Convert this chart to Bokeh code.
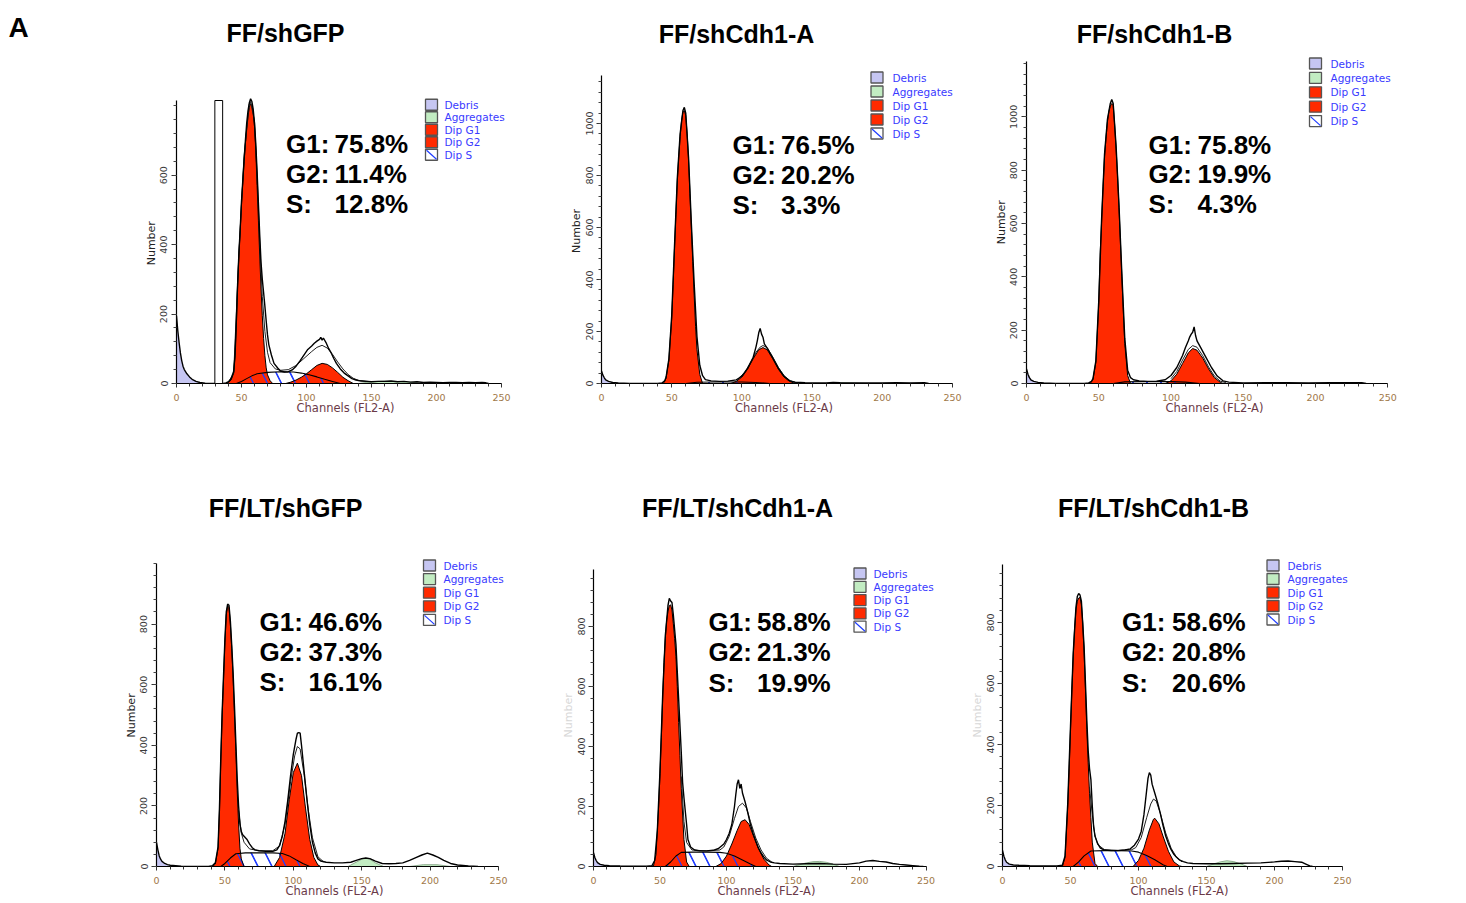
from bokeh.plotting import figure
from bokeh.models import FixedTicker, Range1d
from bokeh.layouts import column, row
from bokeh.embed import file_html
from bokeh.resources import INLINE
from bokeh.core.properties import value

# ---------------- data ----------------
PANEL_LETTER = "A"
TITLES = ["FF/shGFP", "FF/shCdh1-A", "FF/shCdh1-B",
          "FF/LT/shGFP", "FF/LT/shCdh1-A", "FF/LT/shCdh1-B"]
G1_PCT = ["75.8%", "76.5%", "75.8%", "46.6%", "58.8%", "58.6%"]
G2_PCT = ["11.4%", "20.2%", "19.9%", "37.3%", "21.3%", "20.8%"]
S_PCT = ["12.8%", "3.3%", "4.3%", "16.1%", "19.9%", "20.6%"]
STAT_NAMES = ["G1:", "G2:", "S:"]
LEGEND_LABELS = ["Debris", "Aggregates", "Dip G1", "Dip G2", "Dip S"]
X_TICKS = [0, 50, 100, 150, 200, 250]
X_MINOR = list(range(0, 251, 10))
Y_TICKS = [[0, 200, 400, 600],
           [0, 200, 400, 600, 800, 1000],
           [0, 200, 400, 600, 800, 1000],
           [0, 200, 400, 600, 800],
           [0, 200, 400, 600, 800],
           [0, 200, 400, 600, 800]]
Y_AXIS_TOP = [815, 1185, 1206, 1000, 989, 991]
P1_GATE = [29.5, 35.5]

# (channel, number) pairs
P1_DEB = [(0,188),(1,150),(2,115),(3,84),(4,62),(5,48),(6,38),(8,26),(10,17),(12,11),(15,5),(18,2),(22,0)]
P1_AGG = [(140,0),(150,5),(160,7),(170,6),(180,4),(190,0)]
P1_G1 = [(38,0),(40,3),(42,10),(44,30),(45,80),(46,170),(47,280),(48,370),(49,440),(50,520),(51,580),(52,640),
         (53,690),(54,735),(55,770),(56,795),(57,806),(58,800),(59,780),(60,740),(61,670),(62,570),(63,470),
         (64,370),(65,275),(66,195),(67,130),(68,80),(69,45),(70,25),(72,8),(74,0)]
P1_G2 = [(84,0),(88,4),(92,10),(96,18),(100,28),(104,40),(108,52),(112,58),(116,55),(120,45),(124,32),(128,18),(132,8),(136,0)]
P1_S = [(46,0),(50,6),(54,14),(58,22),(62,28),(70,32),(80,34),(90,33),(96,30),(102,25),(108,19),(114,12),(120,6),(126,0)]
P1_FIT = [(40,4),(44,30),(48,375),(52,655),(56,805),(57,812),(60,755),(62,600),(64,410),(66,250),(68,150),(70,90),
          (72,60),(76,42),(80,38),(86,40),(92,52),(98,72),(104,92),(108,104),(112,110),(116,102),(120,84),(124,62),
          (128,42),(132,26),(136,15),(140,9),(150,5)]
P1_DATA = [(0,195),(1,152),(2,118),(3,88),(4,66),(5,50),(6,40),(8,28),(10,19),(12,12),(15,6),(18,3),(22,1),(26,0),
           (36,0),(38,2),(40,5),(42,14),(44,35),(45,80),(46,175),(47,285),(48,375),(49,445),(50,525),(51,585),
           (52,645),(53,700),(54,750),(55,785),(56,808),(57,820),(58,812),(59,790),(60,750),(61,690),(62,610),
           (63,520),(64,430),(65,350),(66,300),(67,262),(68,222),(69,180),(70,140),(71,112),(73,82),(75,58),
           (78,44),(80,36),(83,33),(86,34),(89,39),(92,50),(95,65),(98,82),(101,98),(104,108),(106,116),(108,122),
           (110,127),(111,133),(112,125),(113,131),(115,118),(117,101),(119,88),(121,72),(123,58),(126,42),
           (129,30),(132,22),(135,14),(138,10),(142,7),(146,6),(150,5),(155,6),(160,6),(165,7),(170,5),(175,6),
           (180,4),(185,5),(190,3),(195,4),(200,3),(205,2),(210,3),(215,3),(220,2),(225,3),(230,2),(235,3),
           (238,2),(240,0)]

P2_DEB = [(0,45),(1,30),(2,20),(3,12),(5,6),(7,3),(10,0)]
P2_AGG = [(160,0),(170,3),(180,2),(190,0)]
P2_G1 = [(44,0),(46,20),(48,90),(50,250),(51,380),(52,520),(53,650),(54,780),(55,870),(56,950),(57,1010),(58,1045),
         (59,1050),(60,1030),(61,960),(62,860),(63,730),(64,600),(65,470),(66,340),(67,220),(68,130),(70,35),(72,0)]
P2_G2 = [(92,0),(96,8),(100,25),(104,55),(108,95),(112,130),(115,138),(118,130),(122,95),(126,55),(130,25),(134,8),(138,0)]
P2_S = [(60,0),(68,5),(80,6),(90,6),(100,6),(110,4),(120,0)]
P2_FIT = [(98,22),(102,42),(106,78),(110,120),(113,140),(115,146),(118,138),(122,102),(126,62),(130,30),(134,12),(138,4)]
P2_DATA = [(0,48),(1,32),(2,22),(3,14),(5,8),(8,4),(12,2),(16,1),(20,0),(40,0),(43,2),(45,10),(46,25),(48,95),
           (50,260),(52,530),(54,790),(56,960),(58,1050),(59,1062),(60,1040),(62,870),(64,615),(66,385),(68,180),
           (70,70),(72,30),(74,15),(78,10),(84,8),(90,9),(96,14),(100,28),(104,58),(108,100),(110,140),(111,165),
           (112,195),(113,212),(114,190),(115,178),(116,152),(118,136),(122,98),(126,58),(130,28),(134,10),
           (138,5),(145,3),(160,2),(165,4),(170,3),(180,2),(190,2),(200,2),(210,3),(220,2),(230,3),(233,0)]

P3_DEB = [(0,50),(1,32),(2,20),(3,12),(5,6),(7,3),(10,0)]
P3_AGG = [(165,0),(172,2),(180,0)]
P3_G1 = [(44,0),(46,15),(48,80),(50,300),(51,490),(52,610),(53,740),(54,850),(55,920),(56,980),(57,1020),(58,1040),
         (59,1050),(60,1045),(61,970),(62,880),(63,780),(64,660),(65,530),(66,400),(67,270),(68,150),(70,30),(72,0)]
P3_G2 = [(96,0),(100,10),(104,35),(108,75),(112,115),(115,131),(118,125),(122,95),(126,55),(130,22),(134,5),(136,0)]
P3_S = [(60,0),(68,6),(80,7),(90,7),(100,7),(110,5),(120,0)]
P3_FIT = [(100,18),(104,45),(108,88),(112,128),(115,142),(118,136),(122,104),(126,62),(130,28),(134,9),(138,3)]
P3_DATA = [(0,55),(1,35),(2,22),(3,14),(5,8),(8,4),(12,2),(16,1),(20,0),(40,0),(43,2),(45,8),(46,18),(48,85),
           (50,310),(52,620),(54,860),(56,990),(58,1050),(59,1065),(60,1050),(62,890),(64,670),(66,410),(68,170),
           (70,50),(72,22),(74,14),(78,10),(84,8),(90,9),(96,14),(100,30),(104,60),(108,105),(110,135),(112,160),
           (113,175),(114,185),(115,192),(116,212),(117,180),(118,160),(120,140),(124,100),(128,60),(132,28),
           (136,10),(140,5),(150,2),(165,3),(180,3),(195,2),(210,3),(225,3),(232,3),(235,0)]

P4_DEB = [(0,77),(1,50),(2,32),(3,22),(4,15),(6,8),(8,4),(10,2),(14,0)]
P4_AGG = [(140,0),(145,12),(150,24),(153,27),(156,24),(160,12),(166,0),(185,0),(195,6),(205,6),(215,0)]
P4_G1 = [(41,0),(43,8),(45,60),(46,180),(47,350),(48,500),(49,620),(50,740),(51,830),(52,860),(53,855),(54,800),
         (55,720),(56,620),(57,500),(58,380),(59,250),(60,140),(61,60),(62,25),(64,0)]
P4_G2 = [(86,0),(90,30),(94,110),(97,220),(100,310),(103,341),(106,300),(109,190),(112,90),(115,30),(118,5),(120,0)]
P4_S = [(47,0),(50,10),(54,28),(58,42),(65,45),(75,45),(85,45),(92,43),(97,35),(102,22),(107,10),(112,0)]
P4_FIT = [(60,185),(62,110),(64,80),(68,58),(75,52),(85,52),(90,68),(94,140),(98,280),(101,365),(103,396),
          (105,388),(108,300),(111,185),(114,95),(118,32),(122,16)]
P4_DATA = [(0,80),(1,55),(2,35),(3,24),(4,17),(6,10),(8,6),(10,4),(14,3),(18,1),(22,0),(38,0),(41,3),(43,12),
           (45,65),(46,190),(47,360),(48,510),(49,630),(50,750),(51,840),(52,866),(53,862),(54,810),(55,730),
           (56,640),(57,530),(58,410),(59,290),(60,200),(61,140),(62,115),(63,105),(64,100),(66,90),(68,75),
           (70,62),(72,55),(75,52),(80,50),(85,50),(88,55),(90,70),(92,100),(94,150),(96,220),(98,300),(100,370),
           (102,420),(103,440),(104,442),(105,440),(106,400),(108,310),(110,220),(112,140),(114,80),(116,45),
           (118,25),(120,18),(124,14),(130,12),(136,12),(142,14),(146,20),(150,26),(153,28),(156,26),(160,18),
           (165,10),(170,9),(175,10),(180,12),(185,20),(190,30),(194,38),(198,44),(202,38),(206,30),(210,20),
           (215,10),(220,5),(228,2),(235,0)]

P5_DEB = [(0,44),(1,28),(2,18),(3,12),(5,6),(7,3),(10,0)]
P5_AGG = [(150,0),(155,6),(160,12),(165,16),(170,17),(175,14),(180,8),(185,0)]
P5_G1 = [(45,0),(47,40),(49,200),(50,310),(51,430),(52,560),(53,680),(54,760),(55,820),(56,850),(57,870),(58,872),
         (59,855),(60,810),(61,760),(62,700),(63,600),(64,480),(65,370),(66,260),(68,90),(70,15),(72,0)]
P5_G2 = [(92,0),(96,10),(100,35),(104,75),(108,120),(111,150),(114,156),(117,140),(120,105),(124,60),(128,25),(132,5),(134,0)]
P5_S = [(54,0),(58,15),(62,35),(66,47),(75,48),(85,48),(95,47),(100,44),(106,35),(112,22),(118,8),(122,0)]
P5_FIT = [(66,300),(68,150),(70,80),(74,55),(85,52),(95,55),(98,65),(102,100),(106,160),(109,200),(112,211),
          (115,195),(118,150),(122,95),(126,55),(130,28),(134,15)]
P5_DATA = [(0,46),(1,30),(2,20),(3,13),(5,7),(8,4),(12,3),(20,2),(30,1),(40,1),(44,3),(46,20),(48,120),(50,320),
           (52,570),(54,770),(56,870),(57,894),(58,885),(59,880),(60,840),(62,740),(64,560),(66,380),(67,280),
           (68,230),(70,140),(71,90),(73,65),(76,55),(80,52),(85,52),(90,54),(94,60),(98,75),(100,90),(102,110),
           (104,140),(106,200),(107,240),(108,275),(109,289),(110,260),(111,275),(112,245),(114,215),(116,180),
           (118,140),(120,110),(122,85),(124,62),(126,45),(128,32),(130,22),(133,15),(136,12),(140,10),(150,8),
           (160,9),(170,10),(180,8),(190,7),(200,12),(205,18),(210,20),(215,17),(220,15),(225,10),(230,7),
           (235,5),(240,3),(245,1),(248,0)]

P6_DEB = [(0,51),(1,32),(2,20),(3,12),(5,6),(7,3),(10,0)]
P6_AGG = [(150,0),(155,8),(160,15),(165,19),(170,16),(175,9),(180,0)]
P6_G1 = [(44,0),(46,30),(48,200),(49,320),(50,450),(51,580),(52,690),(53,780),(54,840),(55,870),(56,880),(57,882),
         (58,860),(59,800),(60,700),(61,580),(62,450),(63,340),(64,240),(65,160),(66,80),(68,10),(70,0)]
P6_G2 = [(96,0),(100,20),(104,60),(108,120),(111,155),(112,158),(115,140),(118,100),(122,50),(126,15),(130,2),(132,0)]
P6_S = [(52,0),(56,15),(60,35),(65,51),(75,52),(85,52),(95,51),(100,47),(106,36),(112,22),(118,6),(121,0)]
P6_FIT = [(64,260),(66,170),(68,100),(70,72),(75,55),(85,53),(95,55),(98,62),(102,95),(106,160),(109,205),
          (111,221),(113,215),(116,175),(120,110),(124,60),(128,30),(132,15)]
P6_DATA = [(0,53),(1,34),(2,22),(3,14),(5,8),(8,5),(12,4),(20,3),(30,2),(40,2),(44,4),(46,35),(48,210),(50,460),
           (52,700),(54,850),(55,885),(56,895),(57,890),(58,870),(60,720),(62,480),(63,380),(64,320),(65,285),
           (66,200),(67,130),(68,100),(70,75),(72,60),(75,54),(80,52),(85,52),(90,54),(94,58),(97,70),(100,90),
           (102,115),(104,170),(106,250),(107,290),(108,308),(109,300),(110,270),(112,240),(114,210),(116,175),
           (118,135),(120,100),(122,75),(124,55),(126,40),(128,30),(130,22),(133,16),(136,12),(140,10),(150,9),
           (160,9),(170,10),(180,11),(190,12),(200,15),(205,17),(210,18),(215,16),(220,14),(223,8),(226,2),(228,0)]

SERIES = [
    dict(deb=P1_DEB, agg=P1_AGG, g1=P1_G1, g2=P1_G2, s=P1_S, fit=P1_FIT, data=P1_DATA),
    dict(deb=P2_DEB, agg=P2_AGG, g1=P2_G1, g2=P2_G2, s=P2_S, fit=P2_FIT, data=P2_DATA),
    dict(deb=P3_DEB, agg=P3_AGG, g1=P3_G1, g2=P3_G2, s=P3_S, fit=P3_FIT, data=P3_DATA),
    dict(deb=P4_DEB, agg=P4_AGG, g1=P4_G1, g2=P4_G2, s=P4_S, fit=P4_FIT, data=P4_DATA),
    dict(deb=P5_DEB, agg=P5_AGG, g1=P5_G1, g2=P5_G2, s=P5_S, fit=P5_FIT, data=P5_DATA),
    dict(deb=P6_DEB, agg=P6_AGG, g1=P6_G1, g2=P6_G2, s=P6_S, fit=P6_FIT, data=P6_DATA),
]

# ---------------- layout / style ----------------
LETTER_W = 40
# frame geometry in page pixels: y-axis x, x-axis y, frame top, px per channel, px per count, borders
GEOM = [
    dict(left=176, bottom=386, top=8, xs=1.300, ys=0.350, bl=176 - LETTER_W, br=10, bt=8, bb=36, fw=338, lab=244),
    dict(left=601, bottom=383, top=8, xs=1.404, ys=0.260, bl=77, br=10, bt=8, bb=39, fw=365, lab=231),
    dict(left=1026, bottom=383, top=8, xs=1.445, ys=0.2667, bl=50, br=10, bt=8, bb=39, fw=376, lab=222),
    dict(left=156, bottom=866, top=424, xs=1.368, ys=0.303, bl=156, br=10, bt=2, bb=35, fw=356, lab=715),
    dict(left=593, bottom=866, top=424, xs=1.330, ys=0.300, bl=71, br=10, bt=2, bb=35, fw=346, lab=715),
    dict(left=1002, bottom=866, top=424, xs=1.360, ys=0.305, bl=53, br=10, bt=2, bb=35, fw=354, lab=715),
]
TITLE_POS = [(285, 33), (736, 33), (1154, 33), (285, 507), (737, 507), (1153, 507)]
# label x, value x, first row y, row step
STAT_POS = [(285.5, 334, 145, 30), (732, 780.5, 144, 30), (1148, 1197, 144, 29.5),
            (259, 308, 621, 30), (708, 756.5, 621, 30.5), (1121.5, 1171.5, 621, 30.5)]
# box centre x, first row y, row step, text x
LEG_POS = [(431, 105, 12.6, 444), (876.5, 77, 14, 892), (1315, 63, 14.4, 1330),
           (429, 565, 13.6, 443), (859.5, 573, 13.3, 873), (1272.5, 565, 13.5, 1287)]

RED = "#ff2a00"
DEB_C = "#c6c6f2"
AGG_C = "#c2ecc2"
HATCH_C = "#1f3cff"
LEG_TEXT_C = "#3a3aff"
SANS = "Liberation Sans"
GENEVA = "DejaVu Sans"
NUM_FONT_PX = 11
NBSP_EM = 0.318


def xy(pairs):
    return [a for a, _ in pairs], [b for _, b in pairs]


def letter_fig():
    h = GEOM[0]["bt"] + (GEOM[0]["bottom"] - GEOM[0]["top"]) + GEOM[0]["bb"]
    p = figure(width=LETTER_W, height=h, x_range=Range1d(0, LETTER_W), y_range=Range1d(0, h),
               output_backend="svg", toolbar_location=None,
               x_axis_location=None, y_axis_location=None,
               min_border_left=0, min_border_right=0, min_border_top=0, min_border_bottom=0)
    p.grid.visible = False
    p.outline_line_color = None
    p.text(x=[8], y=[h - 21], text=[PANEL_LETTER], text_align="left", text_baseline="middle",
           text_font=value(SANS), text_font_style="bold", text_font_size="28px", text_color="black")
    return p


def build(i):
    g = GEOM[i]
    fh = g["bottom"] - g["top"]
    p = figure(width=g["bl"] + g["fw"] + g["br"], height=g["bt"] + fh + g["bb"],
               x_range=Range1d(0, g["fw"] / g["xs"]), y_range=Range1d(0, fh / g["ys"]),
               output_backend="svg", toolbar_location=None,
               min_border_left=g["bl"], min_border_right=g["br"],
               min_border_top=g["bt"], min_border_bottom=g["bb"])
    p.grid.visible = False
    p.outline_line_color = None
    p.background_fill_color = "white"
    p.border_fill_color = "white"

    def dx(sx):
        return (sx - g["left"]) / g["xs"]

    def dy(sy):
        return (g["bottom"] - sy) / g["ys"]

    # axes
    xa = p.xaxis[0]
    xa.ticker = FixedTicker(ticks=X_TICKS, minor_ticks=X_MINOR)
    xa.bounds = (0, 250)
    xa.axis_line_color = "black"
    xa.axis_line_width = 1.2
    xa.major_tick_in = 0
    xa.major_tick_out = 4
    xa.minor_tick_in = 0
    xa.minor_tick_out = 3
    xa.major_tick_line_color = "#333333"
    xa.minor_tick_line_color = "#333333"
    xa.major_label_standoff = 6
    xa.major_label_text_font = GENEVA
    xa.major_label_text_font_size = "9.5px"
    xa.major_label_text_color = "#a07848"
    xa.axis_label = "Channels (FL2-A)"
    xa.axis_label_text_font = GENEVA
    xa.axis_label_text_font_style = "normal"
    xa.axis_label_text_font_size = "11.5px"
    xa.axis_label_text_color = "#6b3a48"
    xa.axis_label_standoff = -3

    ya = p.yaxis[0]
    top = Y_AXIS_TOP[i]
    ya.ticker = FixedTicker(ticks=Y_TICKS[i], minor_ticks=list(range(0, top + 1, 40)))
    ya.bounds = (0, top)
    ya.axis_line_color = "black"
    ya.axis_line_width = 1.2
    ya.major_tick_in = 0
    ya.major_tick_out = 5
    ya.minor_tick_in = 0
    ya.minor_tick_out = 3
    ya.major_tick_line_color = "#333333"
    ya.minor_tick_line_color = "#444444"
    ya.major_label_orientation = "vertical"
    ya.major_label_standoff = 4
    ya.major_label_text_font = GENEVA
    ya.major_label_text_font_size = "9.5px"
    ya.major_label_text_color = "#3a3a3a"
    # the axis title is centred on the frame; pad it so that the word sits at the axis' middle
    shift = g["lab"] - (g["top"] + g["bottom"]) / 2.0
    n_pad = max(0, int(round(2 * shift / (NBSP_EM * NUM_FONT_PX))))
    ya.axis_label = "Number" + "\u00a0" * n_pad
    ya.axis_label_text_font = GENEVA
    ya.axis_label_text_font_style = "normal"
    ya.axis_label_text_font_size = "%dpx" % NUM_FONT_PX
    ya.axis_label_text_color = "#222222" if i < 4 else "#d8d8d8"
    ya.axis_label_standoff = 0

    d = SERIES[i]
    dbx, dby = xy(d["deb"])
    agx, agy = xy(d["agg"])
    g1x, g1y = xy(d["g1"])
    g2x, g2y = xy(d["g2"])
    sx_, sy_ = xy(d["s"])
    fx, fy = xy(d["fit"])
    hx, hy = xy(d["data"])

    hatch = dict(hatch_pattern="\\", hatch_color=HATCH_C, hatch_scale=28, hatch_weight=1.3)
    p.varea(x=dbx, y1=0, y2=dby, fill_color=DEB_C)
    p.varea(x=agx, y1=0, y2=agy, fill_color=AGG_C)
    p.varea(x=sx_, y1=0, y2=sy_, fill_color="white", **hatch)
    p.varea(x=g1x, y1=0, y2=g1y, fill_color=RED)
    p.varea(x=g2x, y1=0, y2=g2y, fill_color=RED)
    p.varea(x=sx_, y1=0, y2=sy_, fill_color=None, fill_alpha=0, **hatch)
    p.line(agx, agy, line_color="#7a9a7a", line_width=0.8)
    p.line(sx_, sy_, line_color="black", line_width=1.1)
    p.line(g1x, g1y, line_color="black", line_width=1.0)
    p.line(g2x, g2y, line_color="black", line_width=1.0)
    p.line(fx, fy, line_color="#222222", line_width=1.0)
    p.line(hx, hy, line_color="black", line_width=1.4)

    if i == 0:
        p.quad(left=[P1_GATE[0]], right=[P1_GATE[1]], bottom=[0], top=[Y_AXIS_TOP[0]],
               fill_color="white", line_color="black", line_width=1)

    # title
    tx, ty = TITLE_POS[i]
    p.text(x=[dx(tx)], y=[dy(ty)], text=[TITLES[i]], text_align="center", text_baseline="middle",
           text_font=value(SANS), text_font_style="bold", text_font_size="25px", text_color="black")

    # statistics
    lx, vx, r0, rs = STAT_POS[i]
    rows_y = [dy(r0 + k * rs) for k in range(3)]
    p.text(x=[dx(lx)] * 3, y=rows_y, text=STAT_NAMES, text_align="left", text_baseline="middle",
           text_font=value(SANS), text_font_style="bold", text_font_size="26px", text_color="black")
    p.text(x=[dx(vx)] * 3, y=rows_y, text=[G1_PCT[i], G2_PCT[i], S_PCT[i]], text_align="left",
           text_baseline="middle", text_font=value(SANS), text_font_style="bold",
           text_font_size="26px", text_color="black")

    # legend
    bx, l0, ls, ltx = LEG_POS[i]
    ly = [l0 + k * ls for k in range(5)]
    p.rect(x=[dx(bx)] * 5, y=[dy(v) for v in ly], width=12, height=11,
           width_units="screen", height_units="screen",
           fill_color=[DEB_C, AGG_C, RED, RED, "white"], line_color="#555555", line_width=1.3)
    p.segment(x0=[dx(bx - 5)], y0=[dy(ly[4] - 4.5)], x1=[dx(bx + 5)], y1=[dy(ly[4] + 4.5)],
              line_color=HATCH_C, line_width=1.2)
    p.text(x=[dx(ltx)] * 5, y=[dy(v) for v in ly], text=LEGEND_LABELS, text_align="left",
           text_baseline="middle", text_font=value(GENEVA), text_font_size="10.5px",
           text_color=LEG_TEXT_C)
    return p


figs = [build(i) for i in range(6)]
layout = column(row(letter_fig(), figs[0], figs[1], figs[2]), row(figs[3], figs[4], figs[5]))
open("out.html", "w").write(file_html(layout, INLINE, "Cell cycle profiles"))
